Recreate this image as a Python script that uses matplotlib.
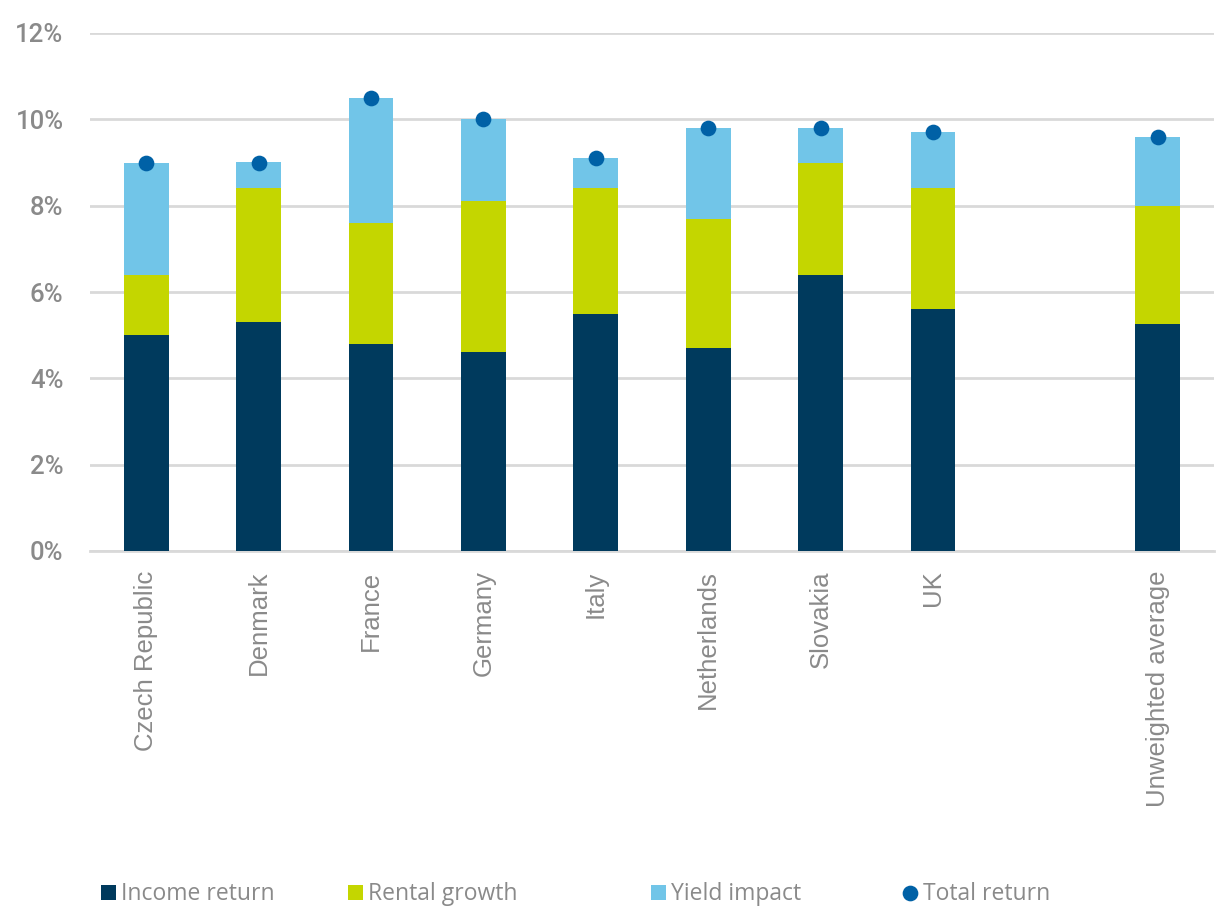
import matplotlib
matplotlib.use("Agg")
import matplotlib.pyplot as plt
import numpy as np
from matplotlib import font_manager as fm
from matplotlib.ticker import FuncFormatter

categories = ["Czech Republic", "Denmark", "France", "Germany", "Italy",
              "Netherlands", "Slovakia", "UK", "", "Unweighted average"]
income_return = [5.0, 5.3, 4.8, 4.6, 5.5, 4.7, 6.4, 5.6, 0.0, 5.25]
rental_growth = [1.4, 3.1, 2.8, 3.5, 2.9, 3.0, 2.6, 2.8, 0.0, 2.75]
yield_impact = [2.6, 0.6, 2.9, 1.9, 0.7, 2.1, 0.8, 1.3, 0.0, 1.6]
total_return = [9.0, 9.0, 10.5, 10.0, 9.1, 9.8, 9.8, 9.7, np.nan, 9.6]
y_ticks = [0, 2, 4, 6, 8, 10, 12]

C_INCOME = "#003a5d"
C_RENTAL = "#c4d600"
C_YIELD = "#71c5e8"
C_TOTAL = "#0061a6"
GRID = "#d9d9d9"
TEXT = "#8a8a8a"

avail = {f.name for f in fm.fontManager.ttflist}
if "Liberation Sans Narrow" in avail:
    tick_font = {"family": "Liberation Sans Narrow", "size": 19.5}
else:
    tick_font = {"family": "Roboto", "size": 18.5}

W, H = 1217, 911
fig = plt.figure(figsize=(W / 100, H / 100), dpi=100)
ax = fig.add_axes([90 / W, 1 - 551 / H, (1214 - 90) / W, (551 - 33) / H])

x = np.arange(len(categories))
inc = np.array(income_return)
ren = np.array(rental_growth)
yld = np.array(yield_impact)
w = 0.4

b1 = ax.bar(x, inc, w, color=C_INCOME, label="Income return", zorder=3)
b2 = ax.bar(x, ren, w, bottom=inc, color=C_RENTAL, label="Rental growth", zorder=3)
b3 = ax.bar(x, yld, w, bottom=inc + ren, color=C_YIELD, label="Yield impact", zorder=3)
pt, = ax.plot(x, total_return, "o", color=C_TOTAL, markersize=11.3,
              markeredgewidth=0, label="Total return", zorder=4)

ax.set_xlim(-0.5, len(categories) - 0.5)
ax.set_ylim(0, 12)
ax.set_yticks(y_ticks)
ax.yaxis.set_major_formatter(FuncFormatter(lambda v, _: f"{v:.0f}%"))
ax.grid(axis="y", color=GRID, linewidth=2, zorder=0)
for s in ["top", "right", "left"]:
    ax.spines[s].set_visible(False)
ax.spines["bottom"].set_color(GRID)
ax.spines["bottom"].set_linewidth(2)
ax.spines["bottom"].set_zorder(2)

ax.tick_params(axis="y", length=0, pad=19, labelcolor=TEXT)
ax.tick_params(axis="x", length=0, pad=14, labelsize=18.5, labelcolor=TEXT)
for t in ax.get_yticklabels():
    t.set_fontfamily(tick_font["family"])
    t.set_fontsize(tick_font["size"])
    t.set_fontweight("medium")
ax.set_xticks(x)
ax.set_xticklabels(categories, rotation=90, family=["Liberation Sans", "DejaVu Sans"])

# legend entries laid out individually along the bottom edge
legend_x = [101, 348, 651, 903]
for handle, lx in zip([b1, b2, b3, pt], legend_x):
    fig.legend(handles=[handle], loc="center left",
               bbox_to_anchor=(lx / W, 1 - 894.5 / H), frameon=False,
               borderpad=0, borderaxespad=0,
               prop={"family": "Open Sans", "size": 16.5}, labelcolor=TEXT,
               handlelength=0.64, handleheight=0.64, handletextpad=0.25,
               markerscale=1.0)

fig.savefig("out.png", dpi=100)
